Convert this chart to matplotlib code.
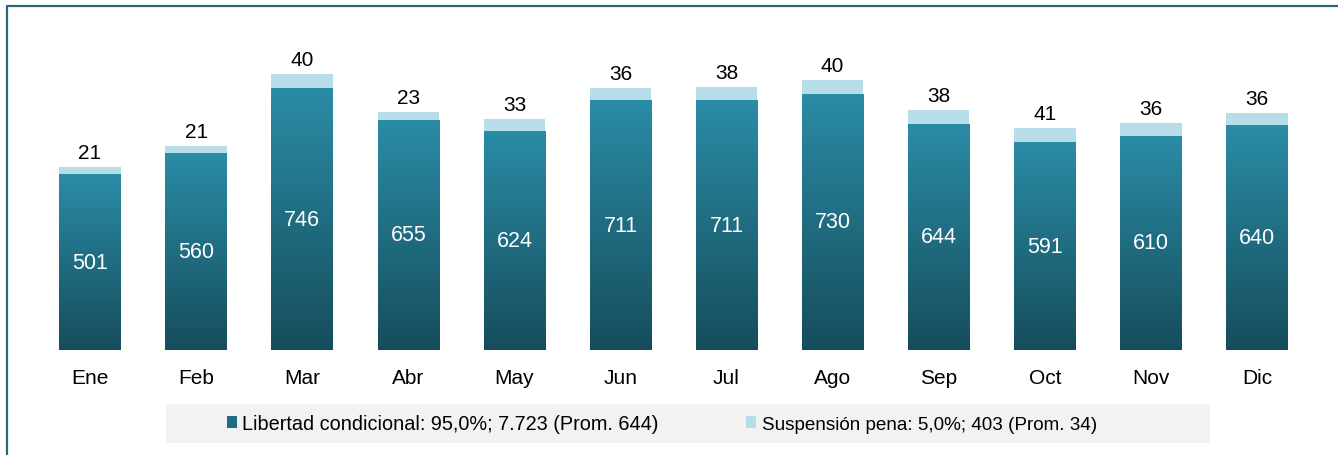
import numpy as np
import matplotlib.pyplot as plt
from matplotlib.patches import Patch, Rectangle
from matplotlib.lines import Line2D
from matplotlib.colors import LinearSegmentedColormap

plt.rcParams['font.family'] = ['Liberation Sans', 'DejaVu Sans']

meses = ['Ene', 'Feb', 'Mar', 'Abr', 'May', 'Jun', 'Jul', 'Ago', 'Sep', 'Oct', 'Nov', 'Dic']
libertad = [501, 560, 746, 655, 624, 711, 711, 730, 644, 591, 610, 640]
suspension = [21, 21, 40, 23, 33, 36, 38, 40, 38, 41, 36, 36]
leg_lib = 'Libertad condicional: 95,0%; 7.723 (Prom. 644)'
leg_sus = 'Suspensión pena: 5,0%; 403 (Prom. 34)'

c_top, c_bot = '#2a8ca6', '#164d5c'
c_light = '#b7dde8'
grad_cmap = LinearSegmentedColormap.from_list('teal', [c_bot, c_top])

fig = plt.figure(figsize=(13.38, 4.56), dpi=100)
ax = fig.add_axes([37 / 1338, 105 / 456, 1273 / 1338, 321 / 456])

x = np.arange(len(meses))
w = 0.58

# dark bars with vertical gradient
bars = ax.bar(x, libertad, w, color='none', edgecolor='none', zorder=2)
grad = np.linspace(0, 1, 256).reshape(-1, 1)
for b in bars:
    im = ax.imshow(grad, extent=[b.get_x(), b.get_x() + b.get_width(), 0, b.get_height()],
                   origin='lower', cmap=grad_cmap, aspect='auto', zorder=2)
    im.set_clip_path(b)

ax.bar(x, suspension, w, bottom=libertad, color=c_light, zorder=2)

for i in range(len(meses)):
    ax.text(x[i], libertad[i] / 2, str(libertad[i]), ha='center', va='center',
            color='white', fontsize=15.5, zorder=3)
    ax.annotate(str(suspension[i]), (x[i], libertad[i] + suspension[i]),
                xytext=(0, 6.5), textcoords='offset points', ha='center', va='baseline',
                fontsize=15, color='black')

ax.set_xlim(-0.5, len(meses) - 0.5)
ax.set_ylim(0, 914)
ax.set_xticks(x)
ax.set_xticklabels(meses, fontsize=15)
ax.tick_params(axis='x', length=0, pad=13)
ax.set_yticks([])
for s in ax.spines.values():
    s.set_visible(False)

# legend background
fig.patches.append(Rectangle((166 / 1338, 12 / 456), 1044 / 1338, 39 / 456,
                             transform=fig.transFigure, facecolor='#f2f2f2',
                             edgecolor='none', zorder=0))
handles = [Patch(facecolor='#1f6e82', edgecolor='none', label=leg_lib),
           Patch(facecolor=c_light, edgecolor='none', label=leg_sus)]
leg = fig.legend(handles=handles, loc='center left', bbox_to_anchor=(227 / 1338, 31.5 / 456),
                 ncol=2, frameon=False, fontsize=14.3, handlelength=0.5, handleheight=0.5,
                 handletextpad=0.28, columnspacing=4.4, borderaxespad=0, borderpad=0)
# second entry is set narrower in the original
leg.get_texts()[1].set_fontsize(13.6)

# frame lines top and left
fig.add_artist(Line2D([7 / 1338, 7 / 1338, 1], [0, 1 - 7 / 456, 1 - 7 / 456],
                      transform=fig.transFigure, color='#2e6676', lw=1.6))

fig.savefig('out.png', dpi=100)
